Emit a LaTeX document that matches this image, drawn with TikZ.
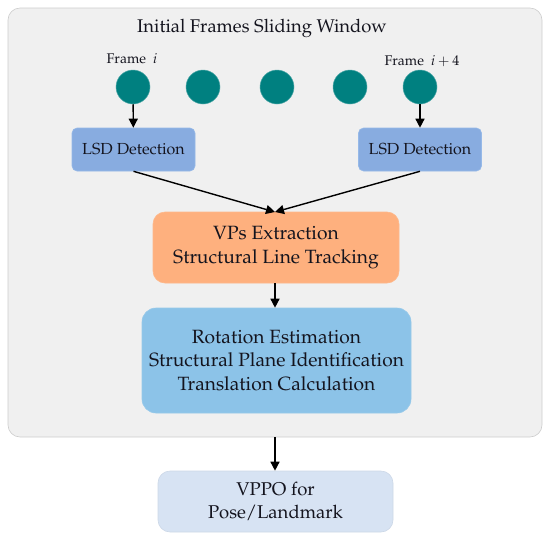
\documentclass[tikz,border=0pt]{standalone}
\usepackage[T1]{fontenc}
\usepackage{mathpazo}
\usetikzlibrary{arrows.meta}
\definecolor{outerfill}{RGB}{240,240,240}
\definecolor{outerdraw}{RGB}{205,205,205}
\definecolor{teal}{RGB}{0,128,128}
\definecolor{lsdfill}{RGB}{136,172,224}
\definecolor{lsddraw}{RGB}{150,185,232}
\definecolor{orfill}{RGB}{254,176,126}
\definecolor{bluefill}{RGB}{140,195,232}
\definecolor{vppofill}{RGB}{215,227,243}
\definecolor{txt}{RGB}{20,20,30}
\tikzset{
  box/.style={draw, line width=0.6pt, align=center, text=txt, inner sep=0pt},
  frame/.style={circle, fill=teal, draw=teal!70!white, line width=0.5pt, minimum size=34pt, inner sep=0pt},
  arr/.style={-{Triangle[length=9pt,width=9pt]}, line width=1.4pt, black},
  lbl/.style={text=txt, font=\fontsize{14}{16}\selectfont, inner sep=0pt}
}
\begin{document}
\begin{tikzpicture}[x=1pt,y=-1pt]
\useasboundingbox (0,0) rectangle (550,539);
\node[draw=outerdraw, fill=outerfill, rounded corners=12pt, line width=0.6pt,
      minimum width=534pt, minimum height=429pt, inner sep=0pt] (outer) at (275,222.5) {};
\node[text=txt, font=\fontsize{18.4}{22}\selectfont, inner sep=0pt, anchor=base] (title) at (262,32) {Initial Frames Sliding Window};
\node[lbl, anchor=base] (lf1) at (132,63) {Frame\ \ $i$};
\node[lbl, anchor=base] (lf5) at (422,65) {Frame\ \ $i+4$};
\node[frame] (f1) at (133,87) {};
\node[frame] (f2) at (203,87) {};
\node[frame] (f3) at (277,87) {};
\node[frame] (f4) at (350,87) {};
\node[frame] (f5) at (420,87) {};
\node[box, draw=lsddraw, fill=lsdfill, rounded corners=5pt, minimum width=123pt, minimum height=43pt,
      font=\fontsize{16}{19}\selectfont] (lsd1) at (133.5,149.5) {LSD Detection};
\node[box, draw=lsddraw, fill=lsdfill, rounded corners=5pt, minimum width=123pt, minimum height=43pt,
      font=\fontsize{16}{19}\selectfont] (lsd2) at (420,149.5) {LSD Detection};
\node[box, draw=orfill!90!white, fill=orfill, rounded corners=12pt, minimum width=246pt, minimum height=71pt,
      font=\fontsize{19.2}{23.5}\selectfont] (vp) at (276,247.5) {VPs Extraction\\Structural Line Tracking};
\node[box, draw=bluefill!90!white, fill=bluefill, rounded corners=14pt, minimum width=269pt, minimum height=105pt,
      font=\fontsize{19.2}{23.5}\selectfont] (rot) at (276.5,360.5) {Rotation Estimation\\Structural Plane Identification\\Translation Calculation};
\node[box, draw=vppofill!95!black, fill=vppofill, rounded corners=12pt, minimum width=235pt, minimum height=61pt,
      font=\fontsize{18.5}{23.5}\selectfont] (vppo) at (275.5,501.5) {VPPO for\\Pose/Landmark};
\coordinate (meet) at (275,212);
\draw[arr] (f1) -- (lsd1);
\draw[arr] (f5) -- (lsd2);
\draw[arr] (lsd1.south) -- (meet);
\draw[arr] (lsd2.south) -- (meet);
\draw[arr] (vp.south -| meet) -- (rot.north -| meet);
\draw[arr] (outer.south -| meet) -- (vppo.north -| meet);
\end{tikzpicture}
\end{document}
